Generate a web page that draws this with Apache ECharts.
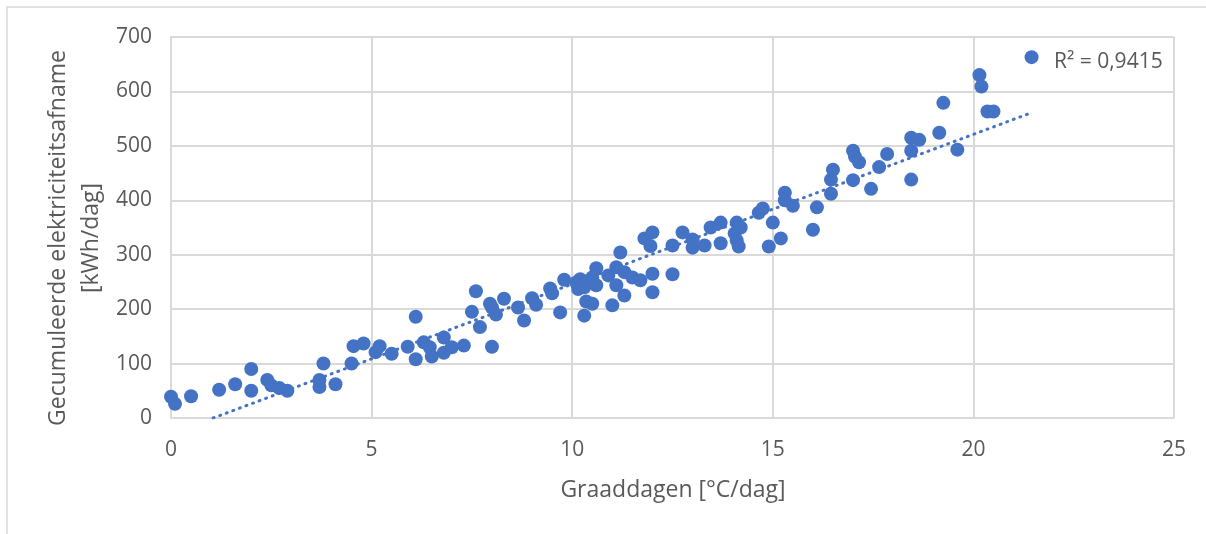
<!DOCTYPE html>
<html>
<head>
<meta charset="utf-8">
<script src="https://cdn.jsdelivr.net/npm/echarts@6/dist/echarts.min.js"></script>
<style>
html,body{margin:0;padding:0;background:#fff;}
#c{width:1206px;height:534px;}
</style>
</head>
<body>
<div id="c"></div>
<script>
// Graaddagen [°C/dag]
var xValues = [0,0.1,0.5,1.2,1.6,2.0,2.0,2.4,2.5,2.7,2.9,
  3.8,3.7,3.7,4.1,4.5,4.55,4.8,
  5.1,5.2,5.5,5.9,6.1,6.1,6.3,6.45,6.5,6.8,6.8,7.0,7.3,
  7.6,7.5,7.7,8.0,7.95,8.1,8.3,8.0,8.65,8.8,9.0,9.1,9.45,9.5,9.7,9.8,
  10.1,10.15,10.3,10.35,10.3,10.5,10.6,10.6,10.5,10.9,11.0,11.1,11.1,11.2,11.3,11.3,11.5,11.7,12.0,12.0,12.5,10.2,10.4,
  11.8,12.0,11.95,12.5,12.75,13.0,13.0,13.3,13.45,13.7,13.7,
  14.1,14.2,14.05,14.1,14.15,14.65,14.75,15.0,14.9,15.2,15.3,15.3,15.5,
  16.1,16.0,16.45,16.45,16.5,17.0,17.05,17.15,17.0,17.45,17.65,17.85,
  18.45,18.45,18.65,18.45,19.15,19.25,19.6,20.15,20.2,20.35,20.5,21.45];
// Gecumuleerde elektriciteitsafname [kWh/dag]
var yValues = [39,26,40,52,62,90,50,70,60,55,50,
  100,70,57,62,100,132,137,
  121,132,118,131,186,108,139,130,113,148,120,130,133,
  233,195,167,131,210,190,219,203,203,179,220,208,238,229,194,254,
  249,237,240,214,188,258,275,244,210,262,207,277,244,304,225,268,258,253,265,231,264,255,250,
  330,341,316,317,341,328,313,317,350,359,321,
  359,350,339,326,315,377,385,359,315,330,414,400,390,
  387,346,412,438,456,491,480,470,437,421,461,485,
  515,491,511,438,524,579,493,630,609,563,563,663];
// Linear trendline end points (as drawn, clipped at y = 0)
var trendX = [1.05, 21.45];
var trendY = [0, 561];
var xTicks = [0, 5, 10, 15, 20, 25];
var yTicks = [0, 100, 200, 300, 400, 500, 600, 700];
var rSquaredText = 'R² = 0,9415';
var xTitle = 'Graaddagen [°C/dag]';
var yTitleLines = ['Gecumuleerde elektriciteitsafname', '[kWh/dag]'];

var points = xValues.map(function (x, i) { return [x, yValues[i]]; });
var trend = trendX.map(function (x, i) { return [x, trendY[i]]; });

var FONT = '"Open Sans", "Noto Sans", sans-serif';
var GRAY = '#595959';
var GRID = '#d9d9d9';
var BLUE = '#4472C4';

var chart = echarts.init(document.getElementById('c'), null, {renderer: 'canvas'});
chart.setOption({
  animation: false,
  backgroundColor: '#fff',
  grid: {left: 171, right: 32, top: 37, bottom: 116, containLabel: false},
  xAxis: {
    type: 'value', min: xTicks[0], max: xTicks[xTicks.length - 1], interval: xTicks[1] - xTicks[0],
    axisLine: {show: true, lineStyle: {color: GRID, width: 2}},
    axisTick: {show: false},
    splitLine: {show: true, lineStyle: {color: GRID, width: 2}},
    axisLabel: {color: GRAY, fontFamily: FONT, fontSize: 21, margin: 22}
  },
  yAxis: {
    type: 'value', min: yTicks[0], max: yTicks[yTicks.length - 1], interval: yTicks[1] - yTicks[0],
    axisLine: {show: true, lineStyle: {color: GRID, width: 2}},
    axisTick: {show: false},
    splitLine: {show: true, lineStyle: {color: GRID, width: 2}},
    axisLabel: {color: GRAY, fontFamily: FONT, fontSize: 21, margin: 19}
  },
  series: [
    {
      type: 'scatter', data: points, symbol: 'circle', symbolSize: 14,
      itemStyle: {color: BLUE, opacity: 1}, z: 2
    },
    {
      type: 'line', data: trend, symbol: 'none', z: 3,
      lineStyle: {color: BLUE, width: 3, type: [1, 6], cap: 'round'}
    }
  ],
  graphic: [
    {type: 'rect', shape: {x: 7, y: 7, width: 1220, height: 560}, style: {fill: 'none', stroke: '#d9d9d9', lineWidth: 1.5}, silent: true},
    {type: 'text', x: 1054, y: 62, style: {text: rSquaredText, font: '21px ' + FONT, fill: GRAY, textAlign: 'left', textVerticalAlign: 'middle'}},
    {type: 'text', x: 673, y: 490, style: {text: xTitle, font: '23px ' + FONT, fill: GRAY, textAlign: 'center', textVerticalAlign: 'middle'}},
    {type: 'text', x: 58, y: 238, rotation: Math.PI / 2, style: {text: yTitleLines[0], font: '23px ' + FONT, fill: GRAY, textAlign: 'center', textVerticalAlign: 'middle'}},
    {type: 'text', x: 91, y: 238, rotation: Math.PI / 2, style: {text: yTitleLines[1], font: '23px ' + FONT, fill: GRAY, textAlign: 'center', textVerticalAlign: 'middle'}}
  ]
});
</script>
</body>
</html>
